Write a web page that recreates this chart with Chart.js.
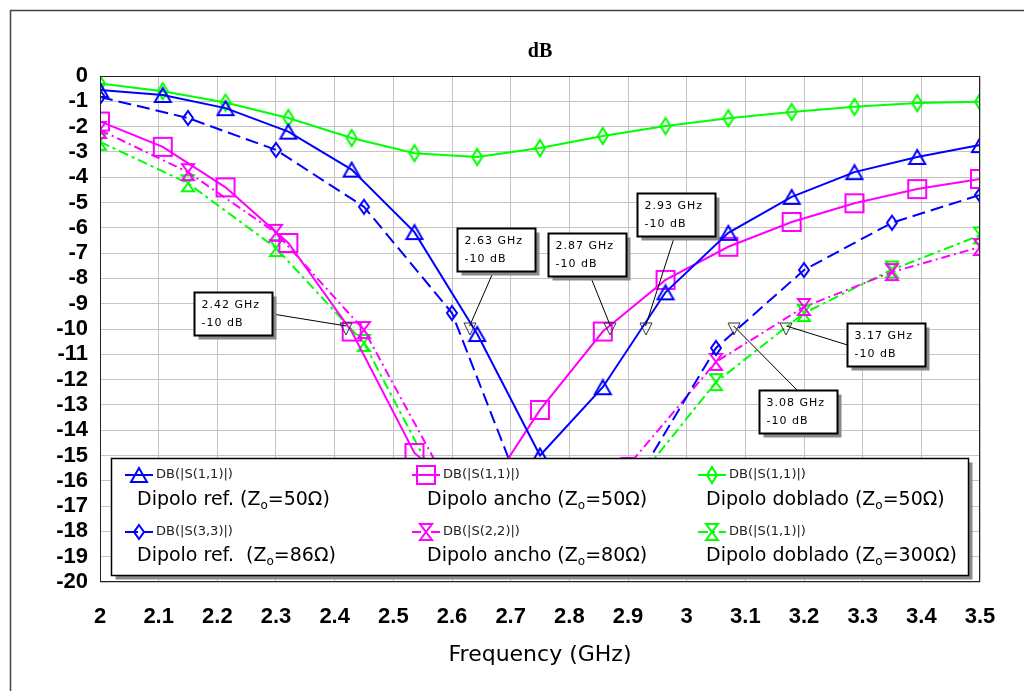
<!DOCTYPE html>
<html>
<head>
<meta charset="utf-8">
<script src="https://cdn.jsdelivr.net/npm/chart.js@4.4.0/dist/chart.umd.min.js"></script>
<style>
  html, body { margin: 0; padding: 0; background: #fff; }
  #wrap { width: 1024px; height: 691px; position: relative; }
</style>
</head>
<body>
<div id="wrap"><canvas id="chart" width="1024" height="691"></canvas></div>
<script>
// marker frequencies (GHz) of the simulator traces
const freqA = [2.0, 2.107, 2.214, 2.321, 2.429, 2.536, 2.643, 2.75, 2.857, 2.964, 3.071, 3.179, 3.286, 3.393, 3.5];
const freqB = [2.0, 2.15, 2.3, 2.45, 2.6, 2.75, 2.9, 3.05, 3.2, 3.35, 3.5];

// dB values
const refS11   = [-0.55, -0.75, -1.27, -2.2, -3.7, -6.17, -10.2, -15.0, -12.3, -8.55, -6.2, -4.78, -3.8, -3.2, -2.73];
const anchoS11 = [-1.8, -2.8, -4.4, -6.6, -10.1, -14.9, -17.0, -13.2, -10.1, -8.06, -6.75, -5.77, -5.03, -4.47, -4.07];
const dobS11   = [-0.3, -0.6, -1.05, -1.66, -2.45, -3.05, -3.2, -2.85, -2.37, -1.98, -1.67, -1.42, -1.22, -1.07, -1.02];
const refS33   = [-0.83, -1.66, -2.92, -5.17, -9.37, -18.3, -16.55, -10.75, -7.67, -5.8, -4.7];
const anchoS22 = [-2.13, -3.8, -6.2, -10.04, -16.45, -19.5, -15.41, -11.3, -9.13, -7.75, -6.76];
const dobS11b  = [-2.6, -4.24, -6.8, -10.55, -17.2, -19.5, -16.42, -12.1, -9.37, -7.65, -6.3];

// -10 dB markers
const markerFreqs = [2.42, 2.63, 2.87, 2.93, 3.08, 3.17];
const markerDb = -10;

const legendKeys = ['DB(|S(1,1)|)', 'DB(|S(1,1)|)', 'DB(|S(1,1)|)', 'DB(|S(3,3)|)', 'DB(|S(2,2)|)', 'DB(|S(1,1)|)'];
const legendNames = [
  ['Dipolo ref. (Z', 'o', '=50Ω)'],
  ['Dipolo ancho (Z', 'o', '=50Ω)'],
  ['Dipolo doblado (Z', 'o', '=50Ω)'],
  ['Dipolo ref.  (Z', 'o', '=86Ω)'],
  ['Dipolo ancho (Z', 'o', '=80Ω)'],
  ['Dipolo doblado (Z', 'o', '=300Ω)']
];

const BLUE = '#0000ff', PINK = '#ff00ff', GREEN = '#00ff00';

function markerCanvas(shape, color, w, h, lw) {
  const c = document.createElement('canvas');
  c.width = w + 4; c.height = h + 4;
  const g = c.getContext('2d');
  g.strokeStyle = color;
  g.lineWidth = lw || 2;
  g.translate(2, 2);
  g.beginPath();
  if (shape === 'tri') {
    g.moveTo(w / 2, 0); g.lineTo(w, h); g.lineTo(0, h); g.closePath();
  } else if (shape === 'square') {
    g.rect(0, 0, w, h);
  } else if (shape === 'diamond') {
    g.moveTo(w / 2, 0); g.lineTo(w, h / 2); g.lineTo(w / 2, h); g.lineTo(0, h / 2); g.closePath();
  } else if (shape === 'hourglass') {
    g.moveTo(0, 0); g.lineTo(w, 0); g.lineTo(0, h); g.lineTo(w, h); g.closePath();
  } else if (shape === 'down') {
    g.moveTo(0, 0); g.lineTo(w, 0); g.lineTo(w / 2, h); g.closePath();
  }
  g.stroke();
  return c;
}

const mTri = markerCanvas('tri', BLUE, 16, 14);
const mSquare = markerCanvas('square', PINK, 18, 18);
const mDiaBlue = markerCanvas('diamond', BLUE, 10, 14);
const mDiaGreen = markerCanvas('diamond', GREEN, 10, 16);
const mHourPink = markerCanvas('hourglass', PINK, 12, 16);
const mHourGreen = markerCanvas('hourglass', GREEN, 12, 16);
const mDown = markerCanvas('down', '#333', 12, 12, 1);

function series(freqs, vals) {
  return freqs.map((f, i) => ({ x: f, y: vals[i] }));
}

const datasets = [
  { data: series(freqA, refS11), borderColor: BLUE, borderDash: [], pointStyle: mTri },
  { data: series(freqA, anchoS11), borderColor: PINK, borderDash: [], pointStyle: mSquare },
  { data: series(freqA, dobS11), borderColor: GREEN, borderDash: [], pointStyle: mDiaGreen },
  { data: series(freqB, refS33), borderColor: BLUE, borderDash: [13, 6], pointStyle: mDiaBlue },
  { data: series(freqB, anchoS22), borderColor: PINK, borderDash: [9, 4, 2, 4], pointStyle: mHourPink },
  { data: series(freqB, dobS11b), borderColor: GREEN, borderDash: [10, 4, 3, 4], pointStyle: mHourGreen }
].map((d, i) => Object.assign({
  label: legendKeys[i],
  borderWidth: 2,
  pointRadius: 6,
  fill: false,
  tension: 0,
  clip: 0
}, d));

// callout box placement relative to each marker (pixels)
const calloutBoxes = [
  { dx: -152, dy: -37, ax: 'right' },
  { dx: -13, dy: -101, ax: 'bottom', off: 36 },
  { dx: -62, dy: -96, ax: 'bottom', off: 42 },
  { dx: -9, dy: -136, ax: 'bottom', off: 37 },
  { dx: 25, dy: 61, ax: 'top', off: 38 },
  { dx: 61, dy: -6, ax: 'left' }
];

function boxWithShadow(ctx, x, y, w, h, lw) {
  ctx.fillStyle = '#8a8a8a';
  ctx.fillRect(x + 4, y + 4, w, h);
  ctx.fillStyle = '#fff';
  ctx.fillRect(x, y, w, h);
  ctx.strokeStyle = '#000';
  ctx.lineWidth = lw;
  ctx.strokeRect(x, y, w, h);
}

const overlay = {
  id: 'overlay',
  beforeDraw(chart) {
    const ctx = chart.ctx;
    ctx.save();
    ctx.fillStyle = '#fff';
    ctx.fillRect(0, 0, chart.width, chart.height);
    ctx.strokeStyle = '#444';
    ctx.lineWidth = 1.5;
    ctx.beginPath();
    ctx.moveTo(10.5, chart.height); ctx.lineTo(10.5, 10.5); ctx.lineTo(chart.width, 10.5);
    ctx.stroke();
    ctx.fillStyle = '#000';
    ctx.font = 'bold 20px "Liberation Serif"';
    ctx.textAlign = 'center';
    ctx.textBaseline = 'middle';
    const a = chart.chartArea;
    ctx.fillText('dB', (a.left + a.right) / 2, 52);
    ctx.restore();
  },
  afterDatasetsDraw(chart) {
    const { ctx, chartArea: a } = chart;
    const xs = chart.scales.x, ys = chart.scales.y;
    ctx.save();
    ctx.strokeStyle = '#222';
    ctx.lineWidth = 1;
    ctx.strokeRect(a.left + 0.5, a.top + 0.5, a.width - 1, a.height - 1);

    // -10 dB markers with callouts
    const bw = 78, bh = 43;
    markerFreqs.forEach((f, i) => {
      const mx = xs.getPixelForValue(f), my = ys.getPixelForValue(markerDb);
      const b = calloutBoxes[i];
      const bx = Math.round(mx + b.dx) + 0.5, by = Math.round(my + b.dy) + 0.5;
      let lx, ly;
      if (b.ax === 'right') { lx = bx + bw; ly = by + bh / 2; }
      else if (b.ax === 'left') { lx = bx; ly = by + bh / 2; }
      else if (b.ax === 'bottom') { lx = bx + b.off; ly = by + bh; }
      else { lx = bx + b.off; ly = by; }
      ctx.strokeStyle = '#000';
      ctx.lineWidth = 1;
      ctx.beginPath();
      ctx.moveTo(lx, ly);
      ctx.lineTo(mx, my - 3);
      ctx.stroke();
      ctx.drawImage(mDown, Math.round(mx - 8), Math.round(my - 8));
      boxWithShadow(ctx, bx, by, bw, bh, 2);
      ctx.fillStyle = '#000';
      ctx.font = '11px "DejaVu Sans"';
      ctx.letterSpacing = '1px';
      ctx.textAlign = 'left';
      ctx.textBaseline = 'middle';
      ctx.fillText(f.toFixed(2) + ' GHz', bx + 7, by + 13);
      ctx.fillText(markerDb + ' dB', bx + 7, by + 31);
      ctx.letterSpacing = '0px';
    });

    // legend box
    boxWithShadow(ctx, 111.5, 458.5, 857, 117, 1.5);
    const colLine = [125, 412, 698];
    const colName = [137, 427, 706];
    const rowKey = [475, 532];
    const rowName = [500, 556];
    chart.data.datasets.forEach((ds, i) => {
      const c = i % 3, r = Math.floor(i / 3);
      const x0 = colLine[c], yk = rowKey[r];
      ctx.strokeStyle = ds.borderColor;
      ctx.lineWidth = 2;
      ctx.setLineDash(ds.borderDash);
      ctx.beginPath();
      ctx.moveTo(x0, yk); ctx.lineTo(x0 + 28, yk);
      ctx.stroke();
      ctx.setLineDash([]);
      const img = ds.pointStyle;
      ctx.drawImage(img, Math.round(x0 + 14 - img.width / 2), Math.round(yk - img.height / 2));
      ctx.fillStyle = '#222';
      ctx.font = '13px "DejaVu Sans"';
      ctx.textAlign = 'left';
      ctx.textBaseline = 'middle';
      ctx.fillText(legendKeys[i], x0 + 31, yk);
      // name with subscript
      const parts = legendNames[i];
      let tx = colName[c];
      const yn = rowName[r];
      ctx.fillStyle = '#000';
      ctx.font = '19px "DejaVu Sans"';
      ctx.fillText(parts[0], tx, yn);
      tx += ctx.measureText(parts[0]).width;
      ctx.font = '12px "DejaVu Sans"';
      ctx.fillText(parts[1], tx, yn + 6);
      tx += ctx.measureText(parts[1]).width;
      ctx.font = '19px "DejaVu Sans"';
      ctx.fillText(parts[2], tx, yn);
    });
    ctx.restore();
  }
};

const tickFont = { family: '"Liberation Sans", Arial', size: 22, weight: 'bold' };

new Chart(document.getElementById('chart'), {
  type: 'line',
  data: { datasets: datasets },
  options: {
    responsive: false,
    animation: false,
    events: [],
    layout: { padding: { left: 10, right: 44, top: 76, bottom: 0 } },
    plugins: { legend: { display: false }, title: { display: false }, tooltip: { enabled: false } },
    scales: {
      x: {
        type: 'linear',
        min: 2, max: 3.5,
        afterFit: (s) => { s.height = 109; },
        grid: { color: '#c4c4c4', lineWidth: 1, drawTicks: false },
        border: { display: false },
        ticks: {
          stepSize: 0.1, autoSkip: false, maxRotation: 0, padding: 22, color: '#000',
          font: tickFont,
          callback: (v) => String(Math.round(v * 10) / 10)
        },
        title: {
          display: true, text: 'Frequency (GHz)', color: '#000',
          font: { family: '"DejaVu Sans"', size: 22 },
          padding: { top: 0, bottom: 23 }
        }
      },
      y: {
        min: -20, max: 0,
        afterFit: (s) => { s.width = 90; },
        grid: { color: '#c4c4c4', lineWidth: 1, drawTicks: false },
        border: { display: false },
        ticks: {
          stepSize: 1, autoSkip: false, padding: 12, color: '#000',
          font: tickFont,
          callback: (v) => String(Math.round(v))
        }
      }
    }
  },
  plugins: [overlay]
});
</script>
</body>
</html>
